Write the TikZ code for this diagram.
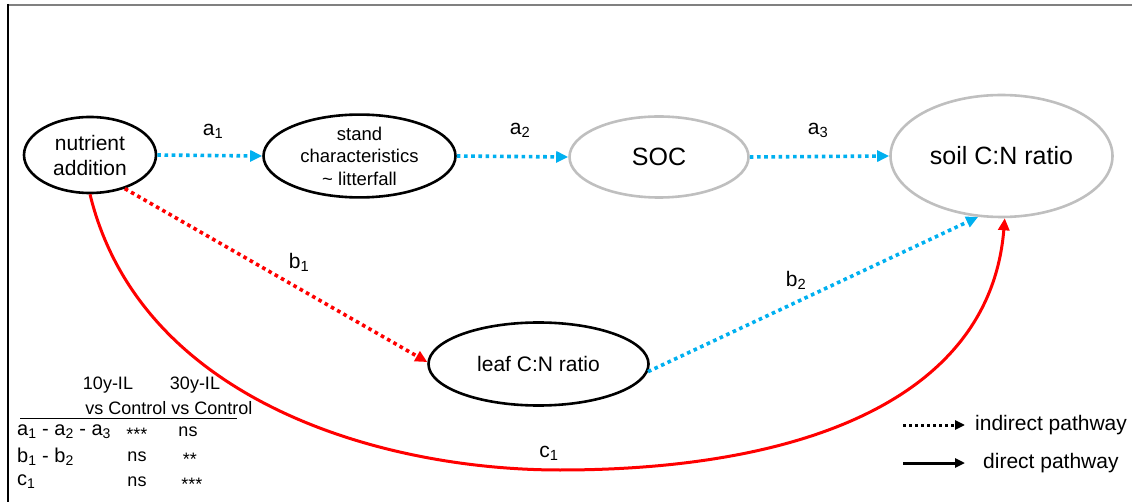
\documentclass[tikz,border=0pt]{standalone}
\usepackage{fontspec}
\setmainfont{Liberation Sans}
\usetikzlibrary{shapes.geometric,arrows.meta}
\definecolor{skyb}{RGB}{0,176,240}
\definecolor{ellgray}{RGB}{191,191,191}
\definecolor{framegray}{RGB}{128,128,128}
\begin{document}
\begin{tikzpicture}[x=1pt,y=-1pt,
  ell/.style={ellipse, line width=2.6pt, inner sep=0pt, align=center, font=\fontsize{21}{25}\selectfont},
  blk/.style={ell, draw=black},
  gry/.style={ell, draw=ellgray, font=\fontsize{25}{29}\selectfont},
  lbl/.style={font=\fontsize{21}{25}\selectfont, inner sep=0pt},
  tbl/.style={font=\fontsize{18}{21}\selectfont, inner sep=0pt},
  rowl/.style={font=\fontsize{20}{23}\selectfont, inner sep=0pt, anchor=west},
  bluedot/.style={draw=skyb, line width=3.6pt, dash pattern=on 3.6pt off 3.6pt, -{Triangle[length=12pt,width=11pt,fill=skyb]}},
  reddot/.style={draw=red, line width=3.6pt, dash pattern=on 3.6pt off 3.6pt, -{Triangle[length=12pt,width=11pt,fill=red]}},
  redsolid/.style={draw=red, line width=3pt, -{Triangle[length=12pt,width=11pt,fill=red]}},
  legdot/.style={draw=black, line width=3pt, dash pattern=on 3pt off 3pt, -{Triangle[length=10pt,width=9pt]}},
  legsolid/.style={draw=black, line width=3pt, -{Triangle[length=10pt,width=9pt]}}
]
\useasboundingbox (0,0) rectangle (1132,502);
% frame
\draw[framegray, line width=2pt] (7,5) -- (1132,5);
\draw[black, line width=2pt] (8,4) -- (8,502);

% nodes
\node[blk, minimum width=132pt, minimum height=76pt] (nut) at (90,155) {nutrient\\addition};
\node[blk, minimum width=192pt, minimum height=81pt, font=\fontsize{18.5}{22.5}\selectfont] (stand) at (359.5,156) {stand\\characteristics\\\textasciitilde{} litterfall};
\node[gry, minimum width=179pt, minimum height=81pt] (soc) at (659,157) {SOC};
\node[gry, minimum width=222pt, minimum height=122pt] (soil) at (1001.5,156) {soil C:N ratio};
\node[blk, minimum width=220pt, minimum height=83pt] (leaf) at (538.5,364) {leaf C:N ratio};

% connectors
\draw[bluedot] (nut.east) -- (stand.west);
\draw[bluedot] (stand.east) -- (soc.west);
\draw[bluedot] (soc.east) -- (soil.west);
\draw[reddot] (nut.-44) -- (leaf.179);
\draw[bluedot] (leaf.-4) -- (soil.-111);
\draw[redsolid] (nut.south) .. controls (140,400) and (380,470) .. (560,470)
  .. controls (800,470) and (990,400) .. (soil.-87);

% labels
\node[lbl] (la1) at (213,131) {a\textsubscript{1}};
\node[lbl] (la2) at (520,130) {a\textsubscript{2}};
\node[lbl] (la3) at (818,130) {a\textsubscript{3}};
\node[lbl] (lb1) at (299,262) {b\textsubscript{1}};
\node[lbl] (lb2) at (796,280) {b\textsubscript{2}};
\node[lbl] (lc1) at (549,453) {c\textsubscript{1}};

% legend
\coordinate (ld1) at (903,425);
\coordinate (ld2) at (965,425);
\coordinate (ls1) at (903,463);
\coordinate (ls2) at (965,463);
\draw[legdot] (ld1) -- (ld2);
\draw[legsolid] (ls1) -- (ls2);
\node[lbl, anchor=west] (lind) at (975,425) {indirect pathway};
\node[lbl, anchor=west] (ldir) at (983,463) {direct pathway};

% table
\node[tbl] (h1) at (108,385) {10y-IL};
\node[tbl] (h2) at (195,385) {30y-IL};
\node[tbl] (h3) at (126,408) {vs Control};
\node[tbl] (h4) at (212,408) {vs Control};
\coordinate (tl1) at (20,418);
\coordinate (tl2) at (237,418);
\draw[black, line width=1pt] (tl1) -- (tl2);
\node[rowl] (r1) at (17,432) {a\textsubscript{1} - a\textsubscript{2} - a\textsubscript{3}};
\node[tbl] (r1a) at (137,434) {***};
\node[tbl] (r1b) at (188,432) {ns};
\node[rowl] (r2) at (17,457) {b\textsubscript{1} - b\textsubscript{2}};
\node[tbl] (r2a) at (137,457) {ns};
\node[tbl] (r2b) at (190,459) {**};
\node[rowl] (r3) at (17,482) {c\textsubscript{1}};
\node[tbl] (r3a) at (137,482) {ns};
\node[tbl] (r3b) at (192,484) {***};
\end{tikzpicture}
\end{document}
